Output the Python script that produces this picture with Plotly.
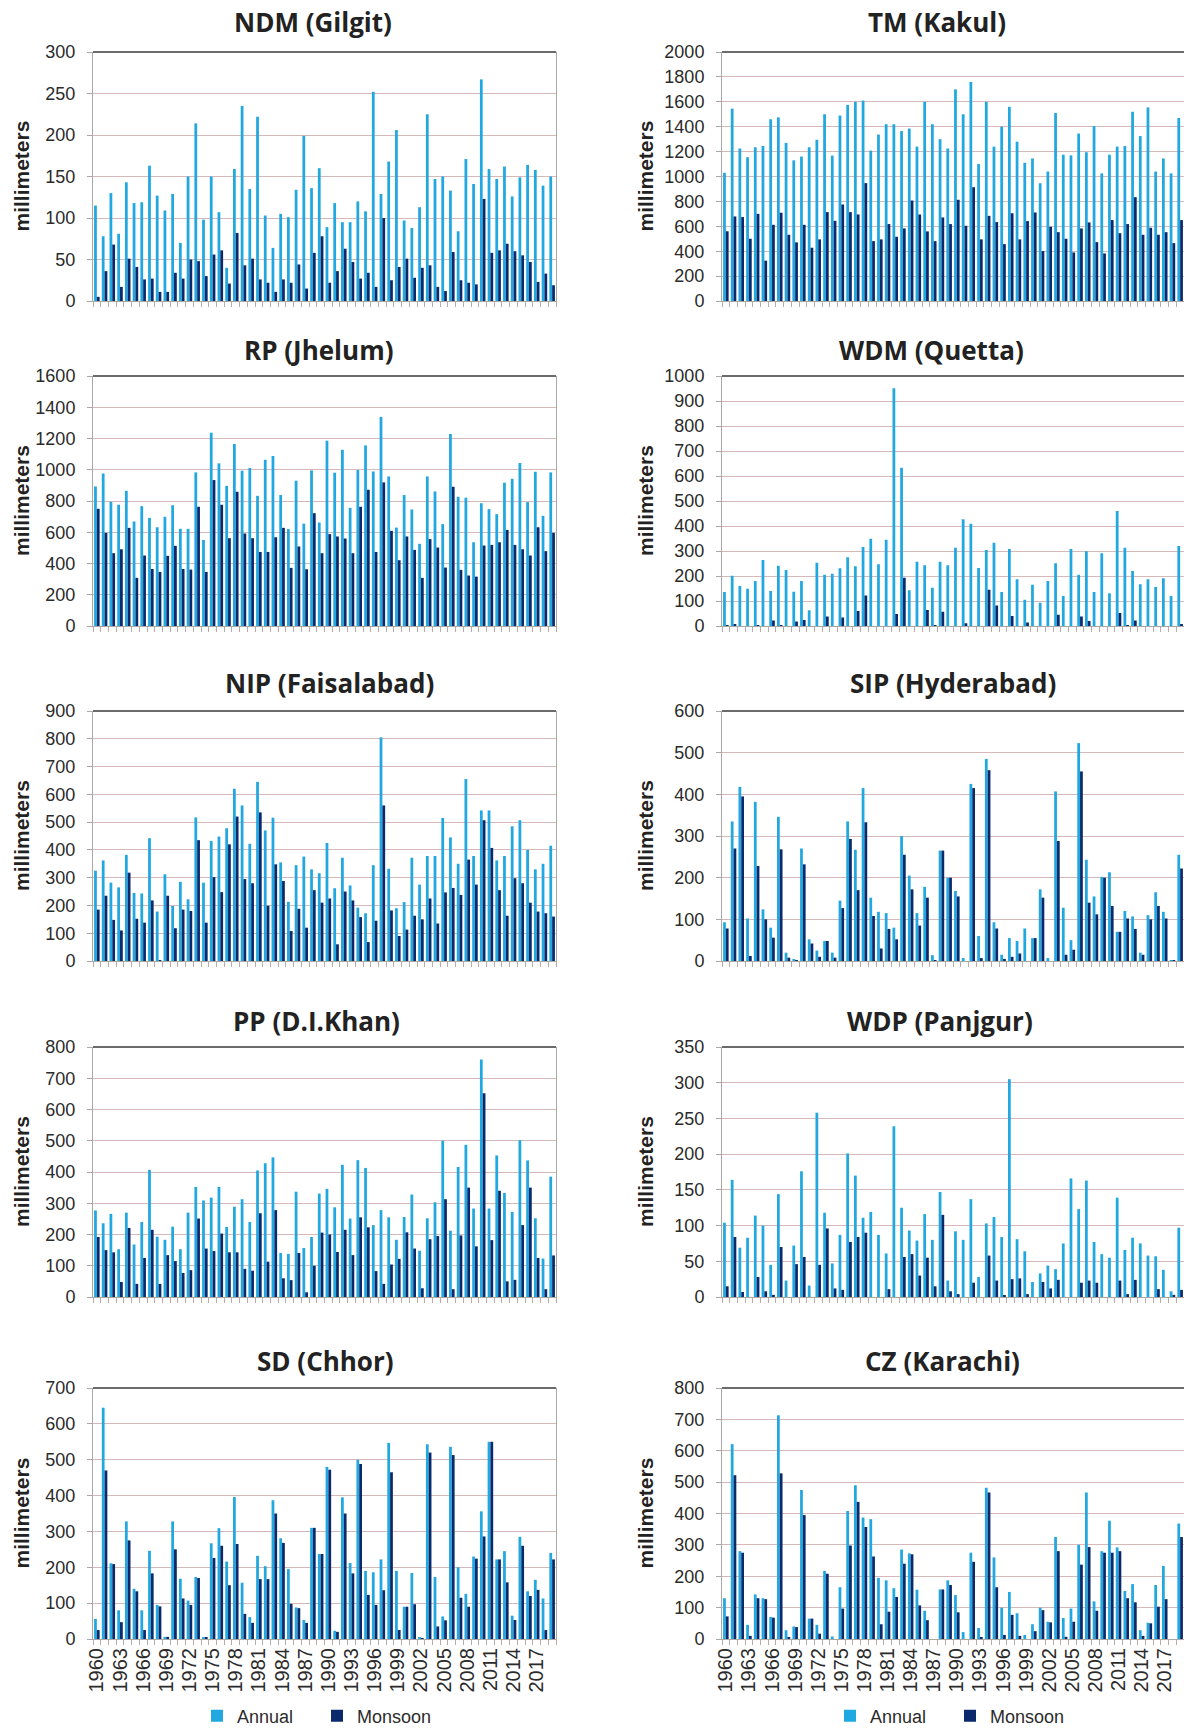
import plotly.graph_objects as go

years = list(range(1960, 2020))
year_tick_vals = list(range(1960, 2018, 3))
year_tick_text = [str(y) for y in year_tick_vals]

ndm_annual = [115, 78, 130, 81, 143, 118, 119, 163, 127, 109, 129, 70, 150, 214, 98, 150, 107, 40, 159, 235,
              135, 222, 103, 64, 105, 101, 134, 199, 136, 160, 89, 118, 95, 95, 120, 108, 252, 129, 168, 206,
              97, 88, 113, 225, 147, 150, 133, 84, 171, 141, 267, 159, 147, 162, 126, 149, 164, 158, 139, 150]
ndm_monsoon = [5, 36, 68, 17, 51, 41, 26, 27, 11, 11, 34, 27, 50, 48, 30, 56, 61, 21, 82, 43,
               51, 26, 22, 11, 26, 22, 44, 15, 58, 78, 22, 36, 63, 47, 27, 34, 17, 100, 25, 41,
               51, 28, 40, 43, 17, 12, 59, 25, 22, 20, 123, 58, 61, 69, 60, 55, 47, 23, 33, 19]

tm_annual = [1030, 1545, 1225, 1155, 1235, 1245, 1460, 1475, 1270, 1130, 1160, 1235, 1295, 1500, 1168, 1490, 1575, 1600, 1610, 1208,
             1337, 1420, 1420, 1365, 1385, 1240, 1600, 1420, 1300, 1225, 1700, 1500, 1760, 1100, 1600, 1240, 1400, 1560, 1280, 1110,
             1145, 946, 1040, 1510, 1175, 1170, 1345, 1195, 1405, 1025, 1175, 1240, 1245, 1520, 1325, 1555, 1040, 1145, 1025, 1470]
tm_monsoon = [560, 679, 674, 500, 700, 324, 612, 709, 532, 471, 612, 428, 495, 714, 644, 775, 714, 695, 947, 481,
              495, 618, 516, 583, 807, 695, 559, 481, 671, 618, 813, 604, 914, 495, 684, 634, 457, 705, 495, 642,
              711, 401, 596, 553, 500, 390, 583, 631, 473, 382, 650, 545, 618, 834, 532, 588, 532, 553, 465, 650]

rp_annual = [893, 976, 795, 776, 865, 669, 767, 692, 632, 699, 773, 622, 622, 983, 551, 1237, 1041, 897, 1165, 994,
             1011, 833, 1064, 1088, 838, 620, 930, 655, 996, 662, 1186, 981, 1128, 756, 998, 1156, 989, 1338, 957, 630,
             838, 746, 526, 957, 861, 652, 1229, 827, 821, 536, 786, 748, 716, 917, 942, 1043, 793, 987, 705, 983]
rp_monsoon = [750, 596, 466, 491, 628, 308, 451, 365, 346, 449, 513, 365, 361, 763, 346, 934, 776, 562, 859, 592,
              562, 474, 474, 568, 628, 372, 509, 363, 722, 466, 588, 573, 560, 466, 763, 872, 474, 919, 609, 421,
              573, 487, 308, 556, 502, 374, 891, 359, 323, 316, 515, 519, 536, 615, 519, 491, 451, 632, 479, 596]

wdm_annual = [136, 201, 160, 149, 180, 264, 140, 241, 224, 137, 180, 63, 253, 205, 209, 231, 275, 239, 316, 349,
              247, 345, 951, 633, 143, 257, 243, 153, 257, 243, 313, 427, 409, 232, 304, 333, 136, 308, 187, 105,
              165, 93, 180, 251, 120, 308, 205, 299, 136, 291, 131, 460, 313, 220, 167, 187, 156, 191, 120, 320]
wdm_monsoon = [4, 8, 0, 0, 3, 0, 22, 3, 0, 18, 24, 0, 0, 38, 0, 34, 0, 60, 122, 0,
               0, 0, 48, 193, 0, 0, 64, 3, 57, 0, 0, 11, 0, 0, 145, 82, 0, 40, 0, 14,
               0, 0, 0, 45, 0, 0, 38, 20, 0, 0, 0, 52, 3, 22, 0, 0, 0, 0, 0, 5]

nip_annual = [325, 362, 282, 265, 382, 245, 243, 442, 178, 312, 198, 285, 222, 517, 282, 432, 448, 478, 620, 560,
              422, 645, 470, 516, 355, 213, 345, 376, 330, 316, 425, 262, 372, 272, 192, 172, 345, 805, 332, 190,
              212, 372, 275, 378, 378, 515, 445, 350, 655, 378, 542, 542, 362, 378, 485, 507, 400, 330, 350, 415]
nip_monsoon = [185, 235, 148, 110, 318, 152, 138, 218, 3, 235, 118, 185, 180, 435, 138, 302, 248, 420, 520, 295,
               280, 535, 199, 348, 288, 108, 188, 120, 255, 210, 225, 60, 250, 218, 158, 68, 145, 560, 182, 90,
               113, 163, 150, 225, 135, 247, 263, 238, 365, 275, 507, 407, 255, 163, 298, 280, 210, 178, 172, 160]

sip_annual = [93, 335, 418, 102, 382, 124, 80, 346, 20, 3, 270, 52, 25, 48, 20, 145, 335, 267, 415, 152,
              118, 115, 80, 300, 205, 115, 178, 14, 265, 200, 168, 7, 425, 60, 485, 93, 15, 55, 48, 78,
              55, 172, 7, 407, 128, 50, 523, 243, 155, 202, 213, 70, 120, 107, 20, 110, 165, 118, 2, 255]
sip_monsoon = [78, 270, 395, 12, 228, 100, 56, 268, 8, 2, 232, 42, 10, 48, 8, 127, 293, 170, 333, 108,
               30, 77, 52, 255, 172, 85, 152, 2, 265, 200, 155, 0, 415, 7, 458, 78, 5, 10, 18, 0,
               55, 152, 0, 288, 15, 27, 455, 140, 112, 200, 132, 70, 102, 77, 15, 100, 132, 102, 2, 222]

pp_annual = [277, 236, 266, 153, 270, 168, 240, 407, 193, 183, 225, 153, 270, 352, 309, 318, 352, 224, 289, 313,
             240, 405, 428, 447, 141, 138, 337, 157, 192, 331, 346, 287, 423, 251, 438, 413, 230, 278, 255, 183,
             256, 328, 148, 252, 303, 500, 212, 416, 487, 283, 760, 283, 453, 333, 272, 502, 437, 252, 123, 385]
pp_monsoon = [192, 150, 143, 48, 221, 42, 125, 215, 42, 134, 115, 77, 86, 251, 155, 147, 203, 143, 143, 90,
              84, 268, 113, 278, 60, 54, 141, 15, 100, 206, 200, 144, 215, 134, 255, 223, 83, 42, 104, 122,
              207, 155, 28, 185, 195, 313, 25, 197, 350, 162, 652, 182, 340, 50, 55, 230, 350, 125, 25, 133]

wdp_annual = [104, 164, 69, 83, 114, 100, 45, 144, 23, 72, 176, 16, 258, 118, 47, 87, 201, 170, 111, 119,
              87, 61, 239, 125, 93, 79, 116, 80, 147, 23, 92, 80, 137, 28, 103, 112, 84, 305, 81, 64,
              21, 33, 44, 39, 75, 166, 123, 163, 77, 60, 55, 139, 66, 83, 75, 58, 57, 38, 8, 97]
wdp_monsoon = [15, 84, 7, 0, 28, 8, 3, 70, 0, 46, 56, 0, 45, 96, 12, 10, 77, 84, 90, 0,
               0, 11, 0, 56, 60, 30, 55, 15, 115, 8, 4, 0, 20, 0, 58, 23, 2, 25, 26, 4,
               0, 21, 12, 24, 0, 0, 20, 23, 20, 0, 0, 23, 4, 24, 0, 0, 11, 0, 3, 10]

sd_annual = [56, 645, 211, 80, 328, 140, 80, 246, 95, 6, 328, 168, 107, 173, 5, 267, 309, 216, 396, 157,
             61, 232, 203, 387, 281, 195, 88, 53, 310, 237, 480, 23, 395, 212, 500, 190, 186, 222, 547, 190,
             90, 184, 3, 543, 173, 63, 536, 200, 126, 230, 356, 550, 222, 245, 65, 285, 133, 165, 113, 240]
sd_monsoon = [25, 470, 209, 47, 275, 133, 25, 183, 91, 6, 250, 113, 95, 170, 3, 226, 260, 150, 265, 70,
              45, 167, 167, 350, 268, 98, 86, 45, 310, 237, 472, 20, 350, 183, 488, 123, 95, 136, 465, 25,
              90, 97, 2, 520, 35, 52, 513, 115, 90, 224, 286, 550, 222, 158, 53, 260, 120, 137, 25, 222]

cz_annual = [130, 621, 280, 45, 142, 130, 70, 713, 28, 40, 475, 65, 45, 217, 8, 165, 408, 490, 387, 382,
             195, 187, 162, 285, 273, 157, 90, 0, 158, 187, 140, 22, 275, 35, 482, 260, 100, 150, 82, 13,
             47, 100, 55, 325, 67, 97, 300, 467, 120, 280, 377, 292, 153, 175, 28, 52, 172, 233, 0, 368]
cz_monsoon = [72, 522, 275, 10, 130, 127, 68, 528, 5, 38, 395, 65, 17, 208, 0, 97, 298, 437, 357, 263,
              47, 87, 134, 240, 270, 107, 60, 0, 158, 172, 85, 0, 246, 5, 467, 165, 13, 77, 10, 0,
              25, 92, 53, 280, 7, 55, 237, 293, 90, 275, 275, 280, 130, 117, 10, 50, 103, 127, 0, 325]

ANNUAL_COLOR = "#21A8E0"
MONSOON_COLOR = "#0B2A6C"
W, H = 1184, 1730

def px_y(y):
    return 1 - y / H

left_dom = [93 / W, 556 / W]
right_dom = [722 / W, 1.0]
row_px = [(52, 301), (376, 626), (711, 961), (1047, 1297), (1388, 1639)]

# title, annual, monsoon, ymax, dtick, col, row, title_x_px, title_y_px
panels = [
    ("NDM (Gilgit)", ndm_annual, ndm_monsoon, 300, 50, 0, 0, 313, 22),
    ("TM (Kakul)", tm_annual, tm_monsoon, 2000, 200, 1, 0, 937, 22),
    ("RP (Jhelum)", rp_annual, rp_monsoon, 1600, 200, 0, 1, 318, 350),
    ("WDM (Quetta)", wdm_annual, wdm_monsoon, 1000, 100, 1, 1, 931, 350),
    ("NIP (Faisalabad)", nip_annual, nip_monsoon, 900, 100, 0, 2, 329, 683),
    ("SIP (Hyderabad)", sip_annual, sip_monsoon, 600, 100, 1, 2, 953, 683),
    ("PP (D.I.Khan)", pp_annual, pp_monsoon, 800, 100, 0, 3, 316, 1021),
    ("WDP (Panjgur)", wdp_annual, wdp_monsoon, 350, 50, 1, 3, 940, 1021),
    ("SD (Chhor)", sd_annual, sd_monsoon, 700, 100, 0, 4, 325, 1361),
    ("CZ (Karachi)", cz_annual, cz_monsoon, 800, 100, 1, 4, 942, 1361),
]

TICK_FONT = dict(family="Liberation Sans, Arial, sans-serif", size=18, color="#2b2b2b")
XTICK_FONT = dict(family="Liberation Sans, Arial, sans-serif", size=20, color="#2b2b2b")

fig = go.Figure()
layout = dict(
    width=W, height=H,
    margin=dict(l=0, r=0, t=0, b=0, autoexpand=False),
    paper_bgcolor="white", plot_bgcolor="white",
    barmode="group", bargap=0.28, bargroupgap=0.0,
    annotations=[], shapes=[],
)

for i, (title, ann, mon, ymax, dtick, col, row, tx, ty) in enumerate(panels):
    n = i + 1
    xa = "x" if n == 1 else f"x{n}"
    ya = "y" if n == 1 else f"y{n}"
    bottom = row == 4
    legend_name = "legend" if col == 0 else "legend2"
    fig.add_trace(go.Bar(x=years, y=ann, name="Annual", marker=dict(color=ANNUAL_COLOR, line=dict(width=0)),
                         xaxis=xa, yaxis=ya, showlegend=bottom, legend=legend_name))
    fig.add_trace(go.Bar(x=years, y=mon, name="Monsoon", marker=dict(color=MONSOON_COLOR, line=dict(width=0)),
                         xaxis=xa, yaxis=ya, showlegend=bottom, legend=legend_name))
    top_px, bot_px = row_px[row]
    dom_x = left_dom if col == 0 else right_dom
    xaxis = dict(
        domain=dom_x, anchor=ya, range=[1959.5, 2019.5], automargin=False,
        showgrid=False, zeroline=False, showline=True, linecolor="#A8A8A8", linewidth=1,
        ticks="", showticklabels=bottom,
        minor=dict(tickmode="linear", tick0=1959.5, dtick=1, ticks="outside", ticklen=5,
                   tickcolor="#BBAAAA", tickwidth=1, showgrid=False),
        fixedrange=True,
    )
    if bottom:
        xaxis.update(tickmode="array", tickvals=year_tick_vals, ticktext=year_tick_text,
                     tickangle=-90, tickfont=XTICK_FONT)
    yaxis = dict(
        domain=[px_y(bot_px), px_y(top_px)], anchor=xa, range=[0, ymax], dtick=dtick, automargin=False,
        showgrid=True, gridcolor="#D6B8B8", gridwidth=1, zeroline=False,
        showline=True, linecolor="#A8A8A8", linewidth=1, mirror=(col == 0),
        ticks="outside", ticklen=5, tickcolor="#A8A8A8", tickfont=TICK_FONT,
        ticklabelstandoff=8, fixedrange=True,
    )
    layout["xaxis" if n == 1 else f"xaxis{n}"] = xaxis
    layout["yaxis" if n == 1 else f"yaxis{n}"] = yaxis
    # dark top border
    layout["shapes"].append(dict(type="line", xref=f"{xa} domain", yref=f"{ya} domain",
                                 x0=0, x1=1, y0=1, y1=1, line=dict(color="#3a3a3a", width=1.5)))
    # panel title
    layout["annotations"].append(dict(text=f"<b>{title}</b>", xref="paper", yref="paper",
                                      x=tx / W, y=px_y(ty), xanchor="center", yanchor="middle",
                                      showarrow=False,
                                      font=dict(family="Open Sans, sans-serif", size=26, color="#222222")))
    # y-axis title
    yt_x = 21 if col == 0 else 645
    layout["annotations"].append(dict(text="<b>millimeters</b>", xref="paper", yref="paper",
                                      x=yt_x / W, y=px_y((top_px + bot_px) / 2), textangle=-90,
                                      xanchor="center", yanchor="middle", showarrow=False,
                                      font=dict(family="Liberation Sans, Arial, sans-serif", size=21,
                                                color="#222222")))

leg_common = dict(orientation="h", yanchor="middle", xanchor="left", bgcolor="rgba(0,0,0,0)",
                  font=dict(family="Liberation Sans, Arial, sans-serif", size=18, color="#2b2b2b"),
                  itemwidth=30, entrywidth=75, entrywidthmode="pixels", traceorder="normal")
layout["legend"] = dict(x=197 / W, y=px_y(1716), **leg_common)
layout["legend2"] = dict(x=830 / W, y=px_y(1716), **leg_common)

fig.update_layout(**layout)
fig.write_html("out.html", config={"displayModeBar": False},
               post_script="document.body.style.margin='0';document.body.style.overflow='hidden';")
